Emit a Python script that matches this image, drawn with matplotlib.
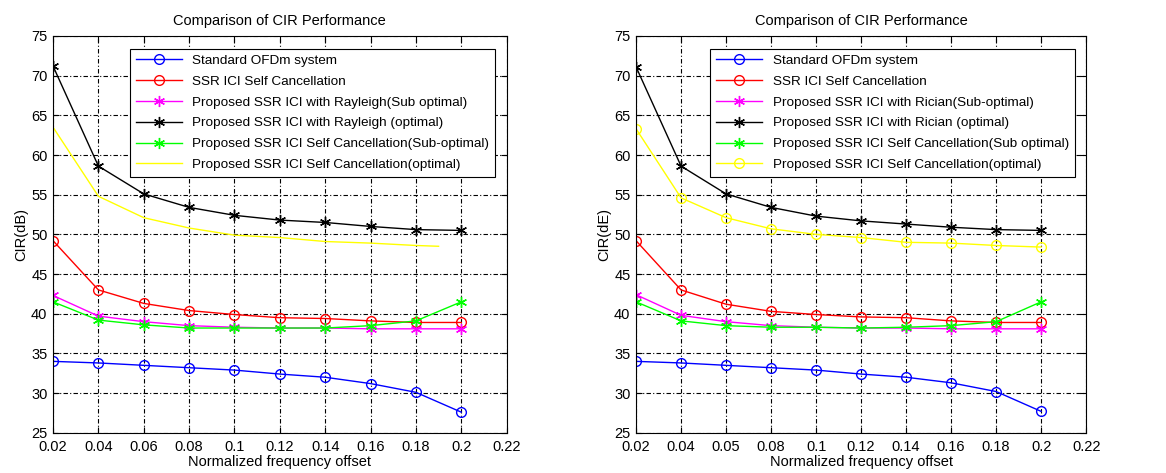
import matplotlib
matplotlib.use('Agg')
import matplotlib.pyplot as plt

plt.rcParams['font.family'] = ['Liberation Sans', 'DejaVu Sans']

# normalized frequency offset
x = [0.02, 0.04, 0.06, 0.08, 0.10, 0.12, 0.14, 0.16, 0.18, 0.20]
x_yellow_left = [0.02, 0.04, 0.06, 0.08, 0.10, 0.12, 0.14, 0.16, 0.18, 0.19]
xtick_vals = [0.02, 0.04, 0.06, 0.08, 0.10, 0.12, 0.14, 0.16, 0.18, 0.20, 0.22]
xtick_left = ['0.02', '0.04', '0.06', '0.08', '0.1', '0.12', '0.14', '0.16', '0.18', '0.2', '0.22']
xtick_right = ['0.02', '0.04', '0.05', '0.08', '0.1', '0.12', '0.14', '0.16', '0.18', '0.2', '0.22']

# left panel (Rayleigh)
std_l = [34.0, 33.8, 33.5, 33.2, 32.9, 32.4, 32.0, 31.2, 30.1, 27.6]
ssr_l = [49.2, 43.0, 41.3, 40.4, 39.9, 39.5, 39.4, 39.1, 38.9, 38.9]
ray_sub_l = [42.3, 39.7, 39.0, 38.5, 38.3, 38.2, 38.2, 38.1, 38.1, 38.1]
ray_opt_l = [71.2, 58.6, 55.1, 53.4, 52.4, 51.8, 51.5, 51.0, 50.6, 50.5]
self_sub_l = [41.5, 39.2, 38.6, 38.2, 38.2, 38.2, 38.2, 38.5, 39.1, 41.5]
self_opt_l = [63.5, 54.8, 52.1, 50.8, 49.9, 49.6, 49.1, 48.9, 48.6, 48.5]

# right panel (Rician)
std_r = [34.0, 33.8, 33.5, 33.2, 32.9, 32.4, 32.0, 31.3, 30.2, 27.7]
ssr_r = [49.2, 43.0, 41.2, 40.3, 39.9, 39.6, 39.5, 39.1, 38.9, 38.9]
ric_sub_r = [42.4, 39.8, 39.0, 38.5, 38.3, 38.2, 38.2, 38.1, 38.1, 38.1]
ric_opt_r = [71.1, 58.6, 55.1, 53.4, 52.3, 51.7, 51.3, 50.9, 50.6, 50.5]
self_sub_r = [41.5, 39.1, 38.5, 38.3, 38.3, 38.2, 38.3, 38.5, 39.0, 41.5]
self_opt_r = [63.3, 54.6, 52.1, 50.7, 50.0, 49.6, 49.0, 48.9, 48.6, 48.4]

labels_l = ['Standard OFDm system', 'SSR ICI Self Cancellation',
            'Proposed SSR ICI with Rayleigh(Sub optimal)',
            'Proposed SSR ICI with Rayleigh (optimal)',
            'Proposed SSR ICI Self Cancellation(Sub-optimal)',
            'Proposed SSR ICI Self Cancellation(optimal)']
labels_r = ['Standard OFDm system', 'SSR ICI Self Cancellation',
            'Proposed SSR ICI with Rician(Sub-optimal)',
            'Proposed SSR ICI with Rician (optimal)',
            'Proposed SSR ICI Self Cancellation(Sub optimal)',
            'Proposed SSR ICI Self Cancellation(optimal)']

ASTER = (6, 2, 0)  # matlab-like '*' marker

fig = plt.figure(figsize=(11.66, 4.73), dpi=100)
ax1 = fig.add_axes([0.0455, 0.085, 0.389, 0.839])
ax2 = fig.add_axes([0.5455, 0.085, 0.386, 0.839])


def style_axes(ax, ticklabels, ylabel):
    ax.set_xlim(0.02, 0.22)
    ax.set_ylim(25, 75)
    ax.set_xticks(xtick_vals)
    ax.set_xticklabels(ticklabels)
    ax.set_yticks(range(25, 80, 5))
    ax.tick_params(direction='in', top=True, right=True, labelsize=10.5, length=4)
    ax.tick_params(axis='x', pad=5)
    ax.tick_params(axis='y', pad=4)
    ax.grid(True, color='black', linestyle=(0, (4, 2, 1, 2)), linewidth=0.8)
    ax.set_title('Comparison of CIR Performance', fontsize=10.5, pad=8)
    ax.set_xlabel('Normalized frequency offset', fontsize=10.5, labelpad=1)
    ax.set_ylabel(ylabel, fontsize=10.5, labelpad=2)
    for s in ax.spines.values():
        s.set_linewidth(0.8)


lw = 1.0
ax1.plot(x, std_l, color='#0000ff', marker='o', mfc='none', ms=7, lw=lw, label=labels_l[0])
ax1.plot(x, ssr_l, color='#ff0000', marker='o', mfc='none', ms=7, lw=lw, label=labels_l[1])
ax1.plot(x, ray_sub_l, color='#ff00ff', marker=ASTER, ms=8, lw=lw, label=labels_l[2])
ax1.plot(x, ray_opt_l, color='black', marker=ASTER, ms=8, lw=lw, label=labels_l[3])
ax1.plot(x, self_sub_l, color='#00ff00', marker=ASTER, ms=8, lw=lw, label=labels_l[4])
ax1.plot(x_yellow_left, self_opt_l, color='#ffff00', lw=lw, label=labels_l[5])
style_axes(ax1, xtick_left, 'CIR(dB)')

ax2.plot(x, std_r, color='#0000ff', marker='o', mfc='none', ms=7, lw=lw, label=labels_r[0])
ax2.plot(x, ssr_r, color='#ff0000', marker='o', mfc='none', ms=7, lw=lw, label=labels_r[1])
ax2.plot(x, ric_sub_r, color='#ff00ff', marker=ASTER, ms=8, lw=lw, label=labels_r[2])
ax2.plot(x, ric_opt_r, color='black', marker=ASTER, ms=8, lw=lw, label=labels_r[3])
ax2.plot(x, self_sub_r, color='#00ff00', marker=ASTER, ms=8, lw=lw, label=labels_r[4])
ax2.plot(x, self_opt_r, color='#ffff00', marker='o', mfc='none', ms=7, lw=lw, label=labels_r[5])
style_axes(ax2, xtick_right, 'CIR(dE)')

for ax in (ax1, ax2):
    leg = ax.legend(loc='upper right', bbox_to_anchor=(0.99, 0.985), fontsize=9.7,
                    fancybox=False, framealpha=1, edgecolor='black',
                    handlelength=3.4, labelspacing=0.62, borderpad=0.45)
    leg.get_frame().set_linewidth(0.8)

plt.savefig('out.png', dpi=100)
plt.close()
